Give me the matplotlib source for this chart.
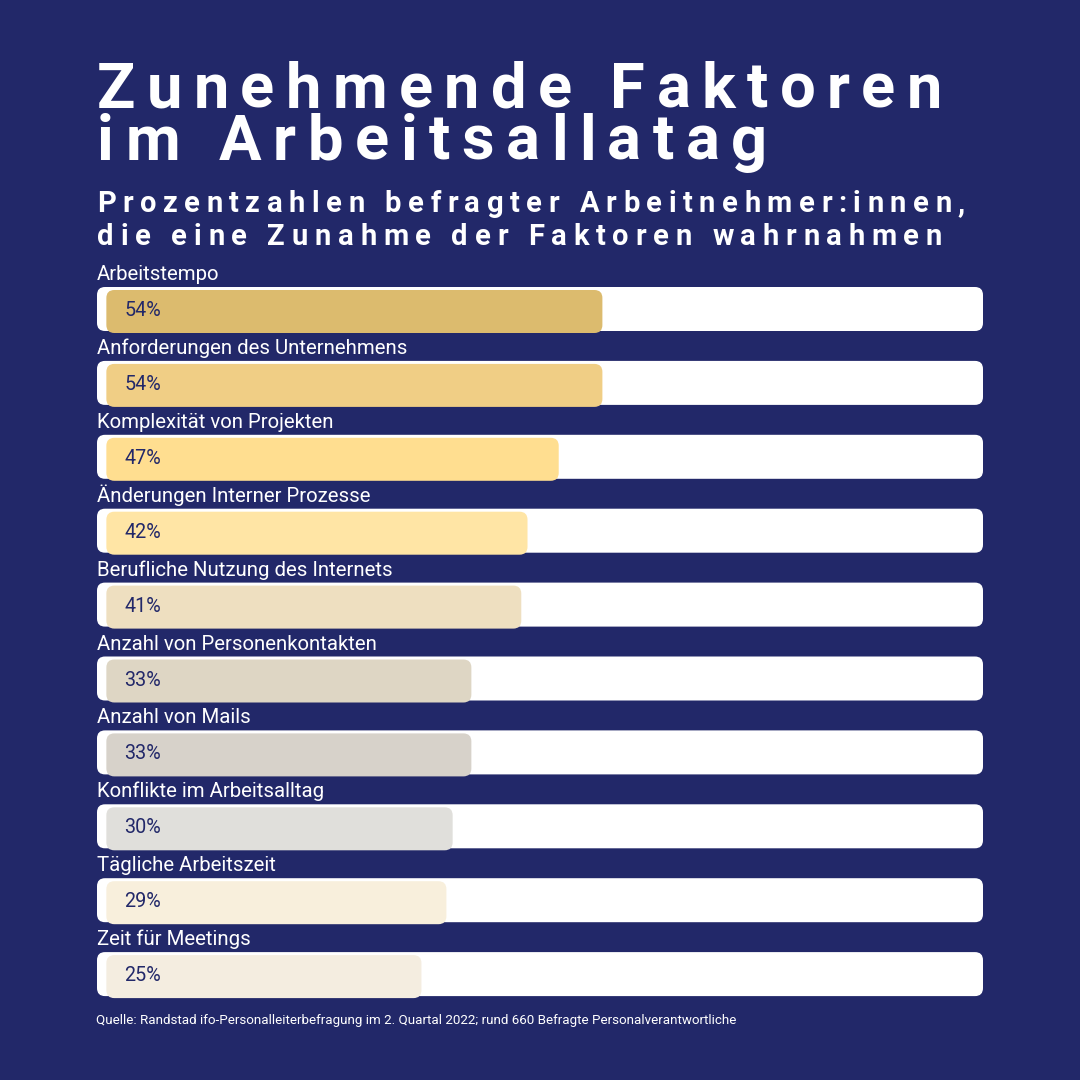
import matplotlib
matplotlib.use("Agg")
import matplotlib.pyplot as plt
from matplotlib.patches import FancyBboxPatch

W, H = 1080, 1080
BG = "#222869"
NAVY = "#222869"

title_lines = ["Zunehmende Faktoren", "im Arbeitsallatag"]
subtitle_lines = ["Prozentzahlen befragter Arbeitnehmer:innen,",
                  "die eine Zunahme der Faktoren wahrnahmen"]
categories = ["Arbeitstempo", "Anforderungen des Unternehmens",
              "Komplexität von Projekten", "Änderungen Interner Prozesse",
              "Berufliche Nutzung des Internets", "Anzahl von Personenkontakten",
              "Anzahl von Mails", "Konflikte im Arbeitsalltag",
              "Tägliche Arbeitszeit", "Zeit für Meetings"]
values = [54, 54, 47, 42, 41, 33, 33, 30, 29, 25]
bar_colors = ["#DCBB6E", "#F0CE85", "#FFDE90", "#FFE5A5", "#EEDFC0",
              "#DED6C4", "#D7D2CA", "#E0DFDB", "#F8EFDC", "#F4EDE0"]
source = ("Quelle: Randstad ifo-Personalleiterbefragung im 2. Quartal 2022; "
          "rund 660 Befragte Personalverantwortliche")

# the bars in the original do not start at zero, they sit on an offset scale
XLO, XHI = -27, 115
BAR_START = -25.5

fig = plt.figure(figsize=(10.8, 10.8), dpi=100, facecolor=BG)
renderer = fig.canvas.get_renderer()


def text_width(s, **kw):
    t = fig.text(0, 0, s, **kw)
    w = t.get_window_extent(renderer).width
    t.remove()
    return w


def spaced_text(x, y, s, width, **kw):
    # matplotlib has no letter spacing, so place the glyphs one by one
    bar_w = text_width("|", **kw)
    def adv(prefix):
        if not prefix:
            return 0.0
        return text_width(prefix + "|", **kw) - bar_w
    natural = text_width(s, **kw)
    track = (width - natural) / (len(s) - 1)
    for i, ch in enumerate(s):
        if ch == " ":
            continue
        cx = x + adv(s[:i]) + i * track
        fig.text(cx / W, 1 - y / H, ch, ha="left", va="baseline", **kw)


title_kw = dict(family="Roboto", weight="bold", size=45.5, color="white")
spaced_text(97, 108, title_lines[0], 845, **title_kw)
spaced_text(97, 160, title_lines[1], 670, **title_kw)

sub_kw = dict(family="Roboto", weight="bold", size=21, color="white")
spaced_text(97, 212, subtitle_lines[0], 868, **sub_kw)
spaced_text(97, 245, subtitle_lines[1], 845, **sub_kw)

# chart area: one row unit = 73.9 px, first track centred at y=309 px
row_px = 73.9
top_px = 309 - row_px
bot_px = 309 + 10 * row_px
ax = fig.add_axes([97 / W, 1 - bot_px / H, (983 - 97) / W, (bot_px - top_px) / H])
ax.set_xlim(XLO, XHI)
ax.set_ylim(10, -1)
ax.axis("off")

xu = (XHI - XLO) / (983 - 97)       # data units per pixel, x
yu = 11 / (bot_px - top_px)         # data units per pixel, y
asp = yu / xu
rad = 8 * xu

track_h = 44 * yu
bar_h = 43 * yu
for i, (cat, v, c) in enumerate(zip(categories, values, bar_colors)):
    y0 = i - track_h / 2
    ax.add_patch(FancyBboxPatch((XLO, y0), XHI - XLO, track_h,
                                boxstyle=f"round,pad=0,rounding_size={rad}",
                                mutation_aspect=asp, fc="white", ec="none"))
    ax.add_patch(FancyBboxPatch((BAR_START, y0 + 3 * yu), v - BAR_START, bar_h,
                                boxstyle=f"round,pad=0,rounding_size={rad}",
                                mutation_aspect=asp, fc=c, ec="none"))
    ax.text(XLO, y0 - 7 * yu, cat, family="Roboto", size=14.7, color="white",
            ha="left", va="baseline")
    ax.text(BAR_START + 2.9, i + 7 * yu, f"{v}%", family="Roboto", size=14.2,
            color=NAVY, ha="left", va="baseline")

fig.text(96 / W, 1 - 1024 / H, source, family="Roboto", size=9.6, color="white",
         ha="left", va="baseline")

fig.savefig("out.png", dpi=100, facecolor=BG)
